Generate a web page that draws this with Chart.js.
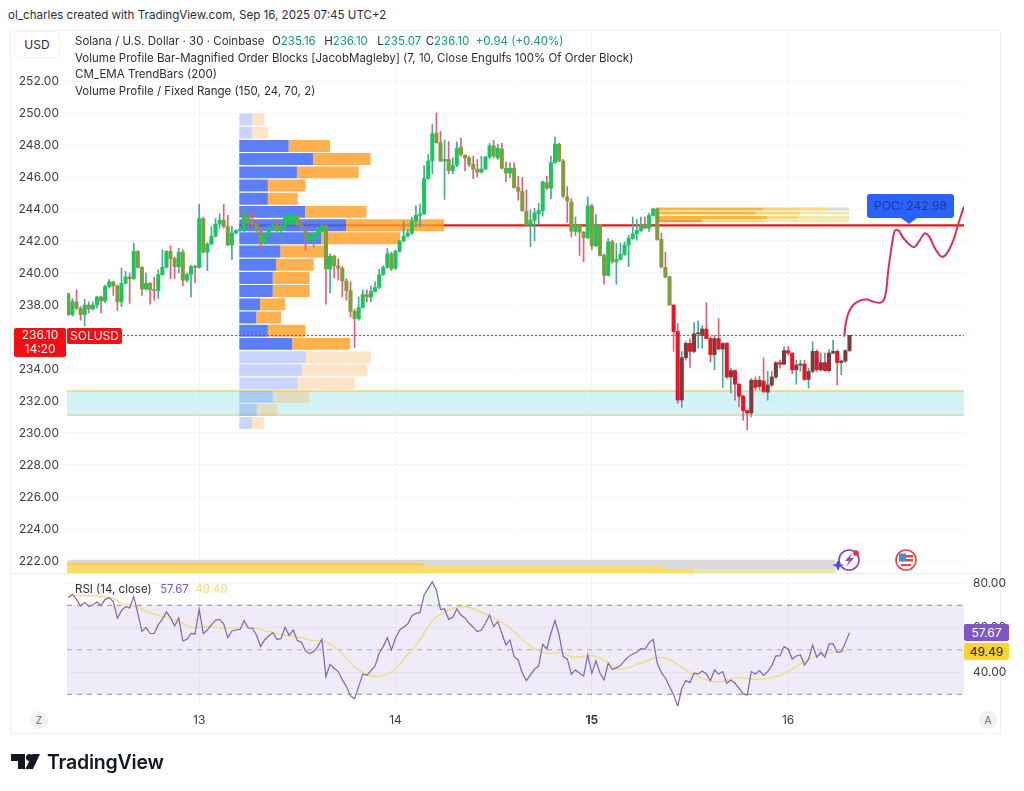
<!DOCTYPE html>
<html>
<head>
<meta charset="utf-8">
<title>SOLUSD 30</title>
<script src="https://cdn.jsdelivr.net/npm/chart.js@4/dist/chart.umd.min.js"></script>
<style>
    html, body { margin: 0; padding: 0; background: #fff; width: 1024px; height: 791px; overflow: hidden; }
    body { position: relative; font-family: Inter, "Liberation Sans", sans-serif; color: #2a2e39; }
    canvas { position: absolute; display: block; }
    .txt { position: absolute; font-size: 11.5px; line-height: 16px; white-space: nowrap; }
    .teal { color: #159a80; }
    #frame { position: absolute; left: 10px; top: 30px; width: 989px; height: 702px; border: 1px solid #f0f0f0; }
    #sep { position: absolute; left: 10px; top: 573px; width: 990px; height: 1px; background: #ececec; }
    #usd { position: absolute; left: 14px; top: 31px; width: 44px; height: 25px; line-height: 25px; text-align: center; font-size: 12px; border: 1px solid #f2f2f2; border-radius: 4px; background: #fff; }
    .tag { position: absolute; color: #fff; font-size: 12px; text-align: center; }
    #pocBox { position: absolute; left: 867px; top: 194px; width: 87px; height: 24px; line-height: 24px; background: #2962ff; border-radius: 3px; text-align: center; font-size: 12px; color: #1d3a8f; }
    #pocArrow { position: absolute; left: 901px; top: 218px; width: 0; height: 0; border-left: 8px solid transparent; border-right: 8px solid transparent; border-top: 6px solid #2962ff; }
    .circ { position: absolute; top: 711px; width: 18px; height: 18px; line-height: 18px; border-radius: 9px; background: #f0f1f3; text-align: center; font-size: 10px; color: #6a6d78; }
</style>
</head>
<body>
<div id="frame"></div>
<canvas id="priceChart" width="990" height="544" style="left:10px;top:30px"></canvas>
<canvas id="rsiChart" width="1000" height="158" style="left:10px;top:575px"></canvas>
<div id="sep"></div>

<div class="txt" style="left:8px;top:7px;font-size:11.6px">ol_charles created with TradingView.com, Sep 16, 2025 07:45 UTC+2</div>
<div id="usd">USD</div>
<div class="txt" style="left:75px;top:33px">Solana / U.S. Dollar · 30 · Coinbase &nbsp;<span style="margin-left:1px">O</span><span class="teal">235.16</span> &nbsp;<span style="margin-left:2px">H</span><span class="teal">236.10</span> &nbsp;<span style="margin-left:3px">L</span><span class="teal">235.07</span> &nbsp;<span style="margin-left:-2px">C</span><span class="teal">236.10</span> &nbsp;<span class="teal">+0.94 (+0.40%)</span></div>
<div class="txt" style="left:75px;top:50px">Volume Profile Bar-Magnified Order Blocks [JacobMagleby] (7, 10, Close Engulfs 100% Of Order Block)</div>
<div class="txt" style="left:75px;top:66px">CM_EMA TrendBars (200)</div>
<div class="txt" style="left:75px;top:83px">Volume Profile / Fixed Range (150, 24, 70, 2)</div>

<div class="tag" style="left:14px;top:328px;width:52px;height:29px;background:#f50f14;border-radius:2px;line-height:14px">236.10<br>14:20</div>
<div class="tag" style="left:67px;top:328px;width:55px;height:16px;background:#f50f14;border-radius:2px;line-height:16px">SOLUSD</div>

<div id="pocBox">POC: 242.98</div>
<div id="pocArrow"></div>

<div class="txt" style="left:75px;top:581px">RSI (14, close) &nbsp;<span style="color:#7e57c2;margin-left:2px">57.67</span> &nbsp;<span style="color:#f5dc6e">49.49</span></div>
<div class="tag" style="left:964px;top:624px;width:45px;height:17px;line-height:17px;background:#7e57c2;border-radius:2px">57.67</div>
<div class="tag" style="left:964px;top:643px;width:45px;height:17px;line-height:17px;background:#fbd52e;border-radius:2px;color:#222">49.49</div>

<div class="circ" style="left:30px">Z</div>
<div class="circ" style="left:979px">A</div>

<svg style="position:absolute;left:830px;top:546px" width="90" height="30" viewBox="0 0 90 30">
    <circle cx="19" cy="14" r="10" fill="#fff" stroke="#8e3fc0" stroke-width="1.6"/>
    <path d="M22 7 L15 15 H19 L16 21 L24 12 H20 Z" fill="#a23fc4"/>
    <path d="M8 14 L10 18 L14 19 L10 20.5 L8 25 L6 20.5 L2 19 L6 18 Z" fill="#4a45f0"/>
    <circle cx="26" cy="7" r="2.8" fill="#ee2a3a"/>
    <circle cx="76" cy="14" r="10" fill="#fff" stroke="#e5484d" stroke-width="1.6"/>
    <rect x="69" y="9" width="14" height="2.5" fill="#e5484d"/>
    <rect x="69" y="13" width="14" height="2.5" fill="#e5484d"/>
    <rect x="71" y="18" width="10" height="2.2" fill="#e5484d"/>
    <rect x="69" y="7.5" width="7" height="7.5" fill="#3d8fd8"/>
</svg>

<svg style="position:absolute;left:10px;top:752px" width="32" height="19" viewBox="0 0 32 19">
    <path d="M1 2 H15 V17 H8 V9 H1 Z" fill="#131722"/>
    <circle cx="19.5" cy="5.5" r="3.5" fill="#131722"/>
    <path d="M30 2 L23 17 H15.5 L22.5 2 Z" fill="#131722"/>
</svg>
<div class="txt" style="left:47px;top:750px;font-size:19.5px;line-height:24px;font-weight:600;color:#131722;letter-spacing:-0.2px">TradingView</div>

<script>
/* ------------------------------------------------------------
   CANDLES (30 min bars)
------------------------------------------------------------ */
const candleOpen = [
    238.7,237.4,238.2,237.8,237.4,238.0,237.75,238.0,238.5,238.25,
    239.15,239.45,239.2,238.2,239.35,239.75,239.65,241.35,240.35,239.0,
    239.35,238.95,238.9,239.9,240.35,241.35,240.9,240.4,241.3,239.55,
    239.9,240.4,240.35,243.4,241.3,241.8,242.3,243.05,243.3,242.9,
    241.75,242.5,242.65,242.75,243.65,243.2,243.05,242.7,241.85,242.35,
    242.8,243.0,242.65,242.9,243.1,243.05,243.55,243.0,242.7,242.0,
    242.05,242.35,242.6,242.95,240.25,241.05,240.45,240.3,239.5,238.9,
    237.6,237.15,237.85,238.65,238.5,238.85,239.1,239.9,240.35,241.2,
    240.3,241.35,242.0,242.3,242.5,243.25,243.6,243.7,245.9,247.0,
    248.75,248.15,247.0,247.1,246.4,246.75,247.85,247.35,247.2,246.8,
    246.5,246.3,246.5,247.25,247.95,247.2,247.75,246.55,246.25,246.55,
    245.35,245.1,243.85,243.0,243.3,243.7,243.9,245.65,245.3,246.9,
    248.05,247.0,244.75,244.45,242.6,243.0,242.55,242.2,244.2,241.7,
    243.0,241.1,239.85,241.95,240.7,240.85,241.15,241.75,242.15,242.45,
    242.65,243.0,242.8,243.6,244.0,242.1,240.35,239.77,238.0,236.34,
    232.06,234.71,235.6,235.1,236.2,236.1,236.5,235.9,234.9,235.9,
    235.25,235.6,233.5,233.9,233.05,232.3,231.4,231.25,233.3,232.9,
    233.25,232.55,233.0,233.5,234.4,234.3,235.15,235.0,233.95,234.25,
    234.3,233.35,233.85,235.1,233.95,234.4,233.9,235.0,235.1,234.4,
    234.5,235.16
];
const candleClose = [
    237.4,238.2,237.8,237.4,238.0,237.75,238.0,238.5,238.25,239.15,
    239.45,239.2,238.2,239.35,239.75,239.65,241.35,240.35,239.0,239.35,
    238.95,238.9,239.9,240.35,241.35,240.9,240.4,241.3,239.55,239.9,
    240.4,240.35,243.4,241.3,241.8,242.3,243.05,243.3,242.9,241.75,
    242.5,242.65,242.75,243.65,243.2,243.05,242.7,241.85,242.35,242.8,
    243.0,242.65,242.9,243.55,243.6,243.55,243.0,242.9,242.2,242.3,
    242.4,242.75,242.95,240.25,241.05,240.45,240.3,239.5,238.9,237.6,
    237.15,237.85,238.65,238.5,238.85,239.1,239.9,240.35,241.2,240.25,
    241.35,242.0,242.3,242.5,243.25,243.6,243.7,245.9,247.0,248.7,
    248.15,247.0,247.1,246.4,246.75,247.8,247.4,247.2,246.8,246.5,
    246.3,246.5,247.25,247.95,247.3,247.8,246.55,246.25,246.55,245.35,
    245.1,243.9,243.0,243.3,243.75,243.9,245.7,245.3,246.9,248.05,
    247.0,244.8,244.5,242.6,243.0,242.55,242.2,244.2,241.7,243.0,
    241.1,239.85,241.95,240.7,240.85,241.15,241.75,242.15,242.45,242.65,
    243.0,242.8,243.6,244.0,242.1,240.4,239.75,238.0,236.34,232.06,
    234.71,235.6,235.1,236.2,236.25,236.5,235.9,234.9,235.9,235.25,
    235.6,233.5,233.9,233.05,232.3,231.4,231.25,233.3,232.85,233.3,
    232.6,233.0,233.5,234.4,234.3,235.15,235.0,233.95,234.25,234.3,
    233.35,233.85,235.1,233.95,234.4,233.9,235.0,235.1,234.4,234.5,
    235.15,236.1
];
const candleHigh = [
    238.75,238.4,238.95,237.9,238.35,238.2,238.2,238.55,238.55,239.25,
    239.6,239.45,239.25,240.3,240.1,240.0,241.85,241.4,240.4,240.0,
    239.4,239.75,240.2,241.45,241.4,241.7,241.0,241.55,241.45,240.0,
    240.5,240.5,244.3,243.5,241.9,242.9,243.4,243.7,244.3,243.6,
    242.95,242.7,242.85,244.1,243.7,243.85,243.3,242.8,242.5,242.95,
    243.1,243.3,243.1,243.6,243.8,243.7,243.6,243.3,242.9,242.4,
    242.5,242.85,243.25,243.0,241.2,241.1,240.9,240.4,239.65,239.45,
    237.75,238.5,238.95,238.95,239.2,239.45,240.25,240.45,241.55,241.3,
    241.45,242.05,243.25,242.7,243.5,244.2,244.3,246.7,247.4,249.3,
    250.0,248.85,248.3,248.2,247.2,248.2,248.45,247.4,247.3,247.3,
    247.1,247.3,247.3,248.1,248.3,248.05,248.1,246.95,246.9,246.9,
    246.05,245.95,245.2,243.95,244.05,244.35,245.75,246.05,247.3,248.5,
    248.1,247.1,245.4,244.65,243.5,243.05,242.6,244.75,244.3,243.65,
    243.05,241.2,242.15,242.05,241.85,241.85,241.95,242.35,243.5,243.35,
    243.5,243.5,243.75,244.05,244.05,242.5,241.3,239.8,238.0,236.85,
    235.1,235.7,235.9,236.9,237.0,236.7,238.15,236.0,236.1,237.15,
    235.65,235.65,234.05,233.95,233.1,232.35,231.45,233.4,233.5,233.55,
    234.7,233.85,233.85,234.45,234.55,235.4,235.4,235.0,234.55,234.55,
    234.55,234.05,235.7,235.2,235.0,235.0,235.2,235.8,235.2,234.55,
    235.2,236.1
];
const candleLow = [
    237.35,237.3,237.7,237.05,236.7,237.5,237.7,237.8,237.5,238.15,
    239.05,238.6,237.65,237.9,239.3,238.1,239.6,240.3,238.6,238.95,
    238.05,238.3,238.4,239.85,240.3,239.65,239.65,240.0,239.2,239.45,
    238.5,239.4,240.3,241.25,240.15,241.75,242.25,242.8,242.8,241.7,
    240.85,242.45,242.6,242.4,242.9,242.95,242.55,241.45,241.8,242.3,
    242.75,242.6,242.15,242.7,243.0,243.0,242.95,242.7,241.45,242.0,
    241.6,242.15,242.55,238.05,238.75,239.7,239.55,238.5,238.3,237.25,
    235.35,237.05,237.8,238.2,238.2,238.8,239.0,239.85,240.3,240.15,
    240.2,241.3,241.95,242.25,242.4,242.9,242.9,243.65,245.85,246.2,
    248.1,246.95,244.6,246.2,246.2,246.65,247.3,246.4,246.65,245.9,
    246.0,246.25,246.45,247.15,247.2,247.1,246.5,245.7,245.95,245.3,
    244.55,243.85,242.95,241.65,242.0,243.05,243.55,245.2,244.65,246.85,
    246.95,244.7,243.15,242.25,242.35,241.1,240.7,242.15,241.45,241.65,
    241.05,239.3,239.8,240.6,239.3,240.8,241.1,240.4,242.1,242.05,
    242.6,242.75,242.6,243.55,242.05,240.3,239.7,238.0,235.1,231.86,
    231.6,234.55,234.1,235.0,235.3,235.3,235.9,234.45,233.95,235.2,
    232.85,233.4,232.5,232.05,231.65,230.8,230.2,231.0,232.7,232.7,
    232.5,232.05,232.9,233.4,234.05,234.25,234.9,233.7,233.05,233.85,
    233.3,232.8,233.75,233.85,233.85,233.85,233.8,234.95,233.0,233.65,
    234.4,235.07
];

const priceTicks = [222,224,226,228,230,232,234,236,238,240,242,244,246,248,250,252];
const dayTicks = [32,80,128,176];
const dayLabels = ["13","14","15","16"];
const boldDay = "15";

const lastPrice = 236.10;
const pocPrice = 242.98;
const bandTop = 232.62;
const bandBottom = 231.12;

/* volume profile rows, widths are in bar units */
const profilePrices = [
    249.59,248.77,247.94,247.12,246.29,245.47,244.64,243.82,242.99,242.17,241.34,240.52,
    239.69,238.87,238.04,237.22,236.39,235.57,234.74,233.92,233.09,232.27,231.44,230.62
];
const profileBuy = [3.2,3.2,12.1,18.1,14.1,7.0,7.0,16.1,26.1,20.1,10.1,9.0,8.2,8.2,5.1,4.2,7.0,13.0,16.3,15.3,14.3,8.2,4.3,3.1];
const profileSell = [3.0,3.9,10.1,14.0,15.1,9.2,7.3,15.0,24.0,19.2,10.8,9.2,9.0,9.0,6.1,6.0,9.2,14.1,15.9,16.0,14.0,8.9,4.9,3.0];
const profileStart = 41.8;
const valueAreaFirst = 2;
const valueAreaLast = 17;

/* order block strips */
const blockPrices = [244.0,243.75,243.47,243.27];
const blockStart = 143.7;
const blockOrangeEnd = [169.9,168.1,170.8,154.9];
const blockYellowEnd = [185.7,178.9,178.2,170.0];
const blockEnd = 190.9;

/* strip along the bottom of the price pane */
const stripPrices = [221.97,221.78,221.56,221.37];
const stripGoldEnd = [0,87.0,146.0,153.2];
const stripEnd = 187.5;

/* hand drawn projection */
const projX = [189.7,190.1,190.7,191.9,193.6,195.2,196.8,198.6,199.7,200.5,201.3,202.1,203.0,204.2,206.7,208.2,209.4,210.5,211.9,213.5,214.8,216.4,217.9,219.0];
const projY = [236.02,236.86,237.48,238.0,238.27,238.34,238.21,238.15,238.52,240.19,241.65,242.65,242.65,242.17,241.61,242.06,242.48,242.27,241.54,241.02,241.23,242.06,243.31,244.15];

/* RSI */
const rsiValues = [
    73.41,74.91,72.66,69.67,71.17,69.52,70.12,71.47,69.82,72.66,
    73.41,71.62,64.13,67.57,69.37,68.77,73.86,66.38,58.29,60.09,
    57.40,57.25,61.29,63.68,66.98,64.43,60.69,64.28,53.95,54.70,
    57.40,57.10,68.17,57.25,58.89,61.14,63.23,63.68,61.59,55.45,
    58.44,58.89,59.19,63.08,59.79,59.64,56.65,51.41,54.40,56.20,
    57.69,54.70,55.00,60.09,56.50,58.89,54.10,53.35,49.46,48.26,
    49.16,51.41,54.70,37.93,43.47,41.68,40.18,36.44,33.44,29.25,
    28.05,33.44,39.13,38.53,40.63,42.72,48.41,51.41,55.45,49.91,
    55.15,58.89,60.09,61.59,65.33,66.38,66.68,74.61,77.60,80.60,
    76.86,68.17,68.32,63.68,64.58,68.32,65.63,64.28,61.89,60.09,
    58.14,58.89,61.89,65.63,60.39,62.63,57.40,52.16,54.40,46.92,
    45.42,39.43,36.14,38.68,41.23,42.72,52.46,50.36,57.40,63.08,
    56.65,46.92,45.87,38.98,40.93,39.43,38.23,47.66,39.43,44.97,
    39.43,36.44,43.92,41.23,41.83,42.87,45.12,46.92,48.11,48.86,
    50.51,50.21,53.20,54.70,43.92,39.73,37.19,33.44,29.70,24.46,
    32.69,36.14,35.24,39.43,39.13,40.48,39.13,36.14,40.93,39.13,
    40.18,34.94,36.44,34.94,32.69,30.15,29.70,40.18,39.13,40.63,
    38.53,40.18,42.87,47.22,47.22,51.41,50.36,45.87,47.22,47.66,
    43.17,45.72,52.16,46.62,48.86,46.62,52.60,52.60,48.86,49.16,
    53.20,57.67
];
const maX = [0,2.9,7.7,11,13.4,16.7,19.2,23.2,27.3,30.2,33.8,38.7,44.4,48.5,52.6,56.6,59.9,61.9,64.8,68.1,70.9,75.4,79.5,82.7,85.9,89.2,92.5,96.6,100.7,105.5,108.8,113.7,116.9,121,123.5,128.4,131.6,134.9,139.8,143.8,147.1,151.2,156.9,160.1,163.4,167.5,172.4,176.4,180.5,185.4,190.3];
const maY = [74.61,74.31,74.16,73.11,70.57,69.37,67.13,64.88,62.63,60.09,60.39,59.64,60.09,58.44,56.65,55.60,54.10,53.95,51.71,46.17,40.93,37.93,40.63,47.22,54.40,63.38,67.43,69.37,67.13,62.93,58.44,50.66,48.41,48.41,46.62,47.22,44.67,41.38,43.92,46.47,45.42,40.63,35.99,35.69,37.49,36.74,37.63,40.63,45.42,48.41,49.49];
const rsiPeakFirst = 87;
const rsiPeakLast = 91;
const rsiLevels = [70,50,30];
const rsiTicks = [80,60,40];


/* ------------------------------------------------------------
   SHARED SCALE RANGES
------------------------------------------------------------ */
const xMin = -0.318;
const xMax = 219.0;
const priceMin = 221.1875;
const priceMax = 255.1875;
const rsiMin = 24.72;
const rsiMax = 83.6;
const trendFlip = 148; // CM_EMA bars turn red from here

const gridColor = "#f3f4f6";
const tickFont = { family: "Inter", size: 12 };

// one hidden index scale per group of horizontal bars, same range as the price axis
function rowScale() {
    return {
        type: "linear",
        display: false,
        min: priceMin,
        max: priceMax,
        offset: false,
        grid: { offset: false },
        afterBuildTicks: s => { s.ticks = []; }
    };
}

function straightLine(value) {
    return [{ x: xMin, y: value }, { x: xMax, y: value }];
}

function noAxisPadding(s) {
    s.paddingTop = 0;
    s.paddingBottom = 0;
    s.paddingLeft = 0;
    s.paddingRight = 0;
}

function bodyColor(i) {
    const up = candleClose[i] >= candleOpen[i];
    if (i >= trendFlip) return up ? "#7c3c3c" : "#ec1424";
    return up ? "#1cc65c" : "#7f9f3e";
}


/* ------------------------------------------------------------
   BUILD THE PRICE PANE SEGMENTS
------------------------------------------------------------ */
const profileBars = [];
const profileColors = [];
profilePrices.forEach((p, i) => {
    const inArea = i >= valueAreaFirst && i <= valueAreaLast;
    const mid = profileStart + profileBuy[i];
    profileBars.push({ x: [profileStart, mid], y: p });
    profileColors.push(inArea ? "rgba(62,104,245,0.85)" : "rgba(62,104,245,0.28)");
    profileBars.push({ x: [mid, mid + profileSell[i]], y: p });
    profileColors.push(inArea ? "rgba(255,160,40,0.82)" : "rgba(255,170,70,0.30)");
});

const blockBars = [];
const blockColors = [];
blockPrices.forEach((p, i) => {
    blockBars.push({ x: [blockStart, blockOrangeEnd[i]], y: p });
    blockColors.push(i === 3 ? "#f79a3c" : "#fcb63e");
    blockBars.push({ x: [blockOrangeEnd[i], blockYellowEnd[i]], y: p });
    blockColors.push("#f9d873");
    blockBars.push({ x: [blockYellowEnd[i], blockEnd], y: p });
    blockColors.push(i === 0 ? "#dcdcdc" : "#efe9b0");
});

const stripBars = [];
const stripColors = [];
stripPrices.forEach((p, i) => {
    if (stripGoldEnd[i] > 0) {
        stripBars.push({ x: [xMin, stripGoldEnd[i]], y: p });
        stripColors.push(i === 1 ? "#fdd04e" : "#fedd66");
    }
    stripBars.push({ x: [Math.max(stripGoldEnd[i], xMin), stripEnd], y: p });
    stripColors.push(i === 3 ? "#eee8a8" : "#d9d9d9");
});


/* ------------------------------------------------------------
   PRICE CHART
------------------------------------------------------------ */
new Chart(document.getElementById("priceChart"), {
    type: "bar",
    data: {
        datasets: [
            {
                type: "line",
                data: projX.map((x, i) => ({ x, y: projY[i] })),
                borderColor: "#d8305f",
                borderWidth: 2,
                pointRadius: 0,
                tension: 0.35,
                order: 1
            },
            {
                label: "bodies",
                data: candleOpen.map((o, i) => ({ x: i, y: [o, candleClose[i]] })),
                backgroundColor: candleOpen.map((o, i) => bodyColor(i)),
                borderWidth: 0,
                barThickness: 3.4,
                minBarLength: 1,
                stack: "candles",
                order: 2
            },
            {
                label: "wicks",
                data: candleOpen.map((o, i) => ({ x: i, y: [candleLow[i], candleHigh[i]] })),
                backgroundColor: candleOpen.map((o, i) => candleClose[i] >= o ? "#4aa79c" : "#e2607a"),
                borderWidth: 0,
                barThickness: 1,
                stack: "candles",
                order: 3
            },
            {
                type: "line",
                data: straightLine(lastPrice),
                borderColor: "#e8262c",
                borderWidth: 1,
                borderDash: [2, 2],
                pointRadius: 0,
                order: 4
            },
            {
                label: "profile",
                indexAxis: "y",
                grouped: false,
                categoryPercentage: 1,
                barPercentage: 0.91,
                data: profileBars,
                backgroundColor: profileColors,
                borderWidth: 0,
                yAxisID: "yProfile",
                order: 5
            },
            {
                type: "line",
                data: [{ x: profileStart, y: pocPrice }, { x: xMax, y: pocPrice }],
                borderColor: "#f0141c",
                borderWidth: 2.2,
                pointRadius: 0,
                order: 6
            },
            {
                label: "blocks",
                indexAxis: "y",
                grouped: false,
                categoryPercentage: 1,
                barPercentage: 0.95,
                data: blockBars,
                backgroundColor: blockColors,
                borderWidth: 0,
                yAxisID: "yBlock",
                order: 6
            },
            {
                label: "strip",
                indexAxis: "y",
                grouped: false,
                categoryPercentage: 1,
                barPercentage: 1,
                data: stripBars,
                backgroundColor: stripColors,
                borderWidth: 0,
                yAxisID: "yStrip",
                order: 6
            },
            {
                type: "line",
                data: straightLine(bandTop),
                borderColor: "#f0d27a",
                borderWidth: 1.5,
                pointRadius: 0,
                fill: "+1",
                backgroundColor: "rgba(170,232,238,0.52)",
                order: 7
            },
            {
                type: "line",
                data: straightLine(bandBottom),
                borderColor: "#f0d27a",
                borderWidth: 1.5,
                pointRadius: 0,
                order: 7
            }
        ]
    },
    options: {
        responsive: false,
        animation: false,
        layout: { padding: { left: 0, right: 36, top: 0, bottom: 0 } },
        plugins: { legend: { display: false }, tooltip: { enabled: false } },
        scales: {
            x: {
                type: "linear",
                min: xMin,
                max: xMax,
                offset: false,
                afterBuildTicks: s => { s.ticks = dayTicks.map(v => ({ value: v })); },
                afterFit: s => { s.height = 0; noAxisPadding(s); },
                ticks: { display: false },
                border: { display: false },
                grid: { color: gridColor, offset: false, drawTicks: false }
            },
            y: {
                type: "linear",
                position: "left",
                stacked: false,
                min: priceMin,
                max: priceMax,
                offset: false,
                afterBuildTicks: s => { s.ticks = priceTicks.map(v => ({ value: v })); },
                afterFit: s => { s.width = 57; noAxisPadding(s); },
                ticks: {
                    color: "#3a3d46",
                    font: tickFont,
                    padding: 8,
                    callback: v => v.toFixed(2)
                },
                border: { display: false },
                grid: { color: gridColor, offset: false, drawTicks: false }
            },
            yProfile: rowScale(),
            yBlock: rowScale(),
            yStrip: rowScale()
        }
    }
});


/* ------------------------------------------------------------
   RSI CHART
------------------------------------------------------------ */
const rsiPoints = rsiValues.map((v, i) => ({ x: i, y: v }));

new Chart(document.getElementById("rsiChart"), {
    type: "line",
    data: {
        datasets: [
            {
                data: rsiPoints,
                borderColor: "#7e65b8",
                borderWidth: 1.2,
                pointRadius: 0,
                order: 1
            },
            {
                data: rsiPoints.slice(rsiPeakFirst, rsiPeakLast + 1),
                borderWidth: 0,
                pointRadius: 0,
                fill: { value: rsiLevels[0] },
                backgroundColor: "rgba(150,215,165,0.22)",
                order: 3
            },
            {
                data: maX.map((x, i) => ({ x, y: maY[i] })),
                borderColor: "#f2dd8c",
                borderWidth: 1.6,
                pointRadius: 0,
                tension: 0.4,
                order: 2
            },
            ...rsiLevels.map(level => ({
                data: straightLine(level),
                borderColor: level === rsiLevels[1] ? "#a9abb3" : "#8b8d96",
                borderWidth: 1,
                borderDash: [5, 5],
                pointRadius: 0,
                order: 4
            })),
            {
                data: straightLine(rsiLevels[0]),
                borderWidth: 0,
                pointRadius: 0,
                fill: { value: rsiLevels[2] },
                backgroundColor: "rgba(126,87,194,0.12)",
                order: 5
            }
        ]
    },
    options: {
        responsive: false,
        animation: false,
        layout: { padding: { left: 57, right: 0, top: 0, bottom: 0 } },
        plugins: { legend: { display: false }, tooltip: { enabled: false } },
        scales: {
            x: {
                type: "linear",
                min: xMin,
                max: xMax,
                afterBuildTicks: s => { s.ticks = dayTicks.map(v => ({ value: v })); },
                afterFit: s => { s.height = 27; noAxisPadding(s); },
                ticks: {
                    color: "#3a3d46",
                    padding: 7,
                    maxRotation: 0,
                    font: ctx => {
                        const label = ctx.tick ? dayLabels[dayTicks.indexOf(ctx.tick.value)] : "";
                        return { family: "Inter", size: 12, weight: label === boldDay ? "700" : "400" };
                    },
                    callback: v => dayLabels[dayTicks.indexOf(v)]
                },
                border: { display: false },
                grid: { color: gridColor, drawTicks: false }
            },
            y: {
                type: "linear",
                position: "right",
                min: rsiMin,
                max: rsiMax,
                afterBuildTicks: s => { s.ticks = rsiTicks.map(v => ({ value: v })); },
                afterFit: s => { s.width = 46; noAxisPadding(s); },
                ticks: {
                    color: "#3a3d46",
                    font: tickFont,
                    padding: 9,
                    callback: v => v.toFixed(2)
                },
                border: { display: false },
                grid: { color: gridColor, drawTicks: false }
            }
        }
    }
});
</script>
</body>
</html>
